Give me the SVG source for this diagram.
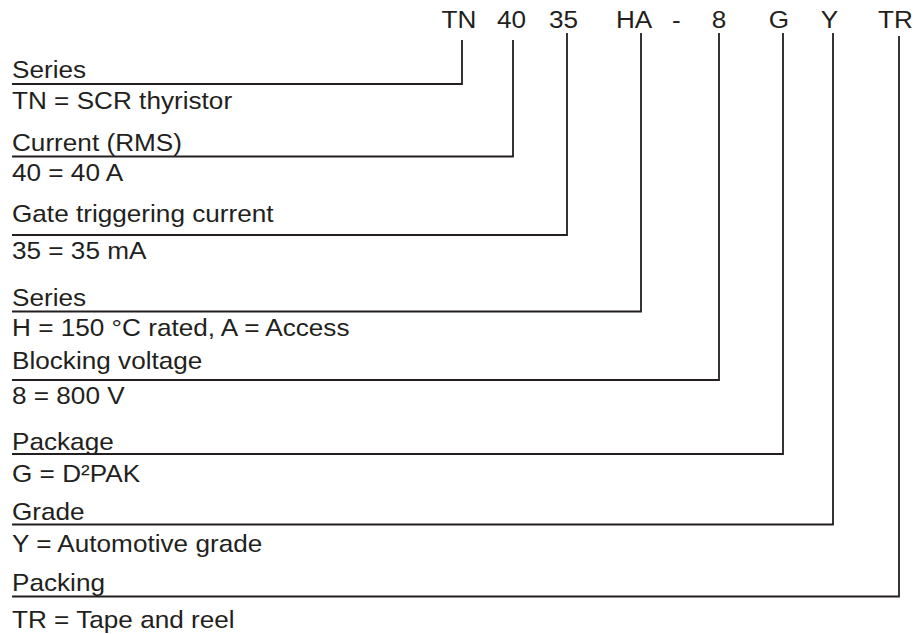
<svg xmlns="http://www.w3.org/2000/svg" width="922" height="634" viewBox="0 0 922 634">
<style>
text{font-family:"Liberation Sans",Arial,sans-serif;font-size:24px;fill:#231f20}
.c{text-anchor:middle}
polyline{stroke:#231f20;stroke-width:1.8;fill:none}
</style>
<rect width="922" height="634" fill="#fff"/>
<g id="code" transform="scale(1.09 1)">
<text class="c" x="421.1" y="28">TN</text>
<text class="c" x="469.3" y="28">40</text>
<text class="c" x="517" y="28">35</text>
<text class="c" x="581.7" y="28">HA</text>
<text class="c" x="620.6" y="28">-</text>
<text class="c" x="659.6" y="28">8</text>
<text class="c" x="714.7" y="28">G</text>
<text class="c" x="761" y="28">Y</text>
<text class="c" x="821.6" y="28">TR</text>
</g>
<g id="connectors">
<polyline points="462,40 462,84 12,84"/>
<polyline points="513,40 513,156.5 12,156.5"/>
<polyline points="567,33 567,235 12,235"/>
<polyline points="641,33 641,311.5 12,311.5"/>
<polyline points="719,33 719,380 12,380"/>
<polyline points="783,33 783,454 12,454"/>
<polyline points="833,33 833,524.5 12,524.5"/>
<polyline points="899,36 899,596.5 12,596.5"/>
</g>
<g id="series" transform="scale(1.09 1)"><text x="11" y="78">Series</text><text x="11" y="109">TN = SCR thyristor</text></g>
<g id="current" transform="scale(1.09 1)"><text x="11" y="151.5">Current (RMS)</text><text x="11" y="181">40 = 40 A</text></g>
<g id="gate" transform="scale(1.09 1)"><text x="11" y="222">Gate triggering current</text><text x="11" y="259">35 = 35 mA</text></g>
<g id="series2" transform="scale(1.09 1)"><text x="11" y="306">Series</text><text x="11" y="336">H = 150 °C rated, A = Access</text></g>
<g id="voltage" transform="scale(1.09 1)"><text x="11" y="369">Blocking voltage</text><text x="11" y="404">8 = 800 V</text></g>
<g id="package" transform="scale(1.09 1)"><text x="11" y="450">Package</text><text x="11" y="482">G = D²PAK</text></g>
<g id="grade" transform="scale(1.09 1)"><text x="11" y="520">Grade</text><text x="11" y="552">Y = Automotive grade</text></g>
<g id="packing" transform="scale(1.09 1)"><text x="11" y="591.5">Packing</text><text x="11" y="628">TR = Tape and reel</text></g>
</svg>
